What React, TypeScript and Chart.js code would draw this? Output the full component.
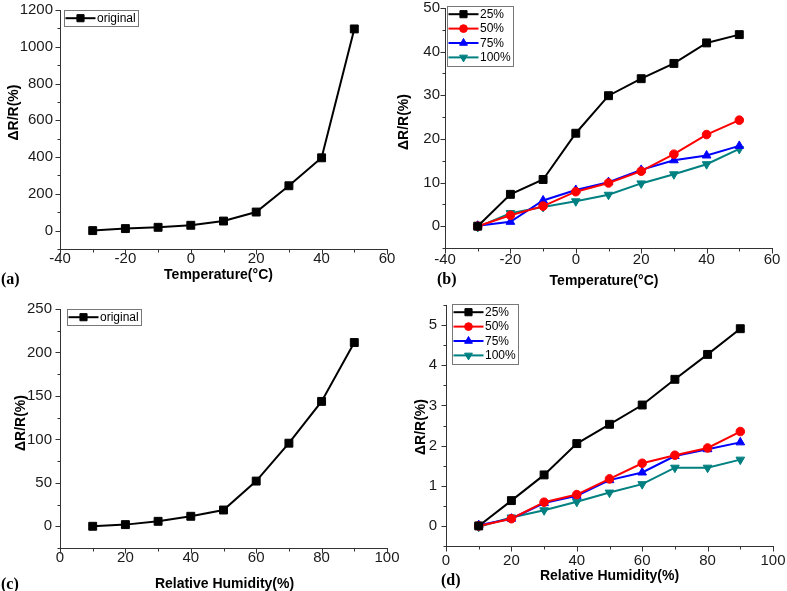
import React, { useEffect, useRef } from "react";
import { Chart, registerables } from "chart.js";
import { drawPoint } from "chart.js/helpers";

Chart.register(...registerables);

// ---------- data ----------
const tempX = [-30, -20, -10, 0, 10, 20, 30, 40, 50];
const humX = [10, 20, 30, 40, 50, 60, 70, 80, 90];

const tempOriginal = [0, 11, 18, 29, 52, 101, 244, 396, 1097];
const temp25 = [0, 7.3, 10.7, 21.3, 29.9, 33.8, 37.3, 42.0, 43.9];
const temp50 = [0, 2.5, 4.6, 7.9, 9.9, 12.6, 16.5, 21.0, 24.3];
const temp75 = [0.1, 1.0, 5.9, 8.3, 10.1, 12.9, 15.1, 16.2, 18.4];
const temp100 = [-0.2, 3.0, 4.4, 5.7, 7.2, 9.8, 11.9, 14.2, 17.7];

const humOriginal = [0, 1.9, 5.7, 11.5, 18.7, 52, 95.6, 143.7, 211.4];
const hum25 = [0, 0.63, 1.27, 2.05, 2.53, 3.01, 3.65, 4.27, 4.91];
const hum50 = [0, 0.18, 0.59, 0.78, 1.17, 1.56, 1.76, 1.94, 2.35];
const hum75 = [0.02, 0.18, 0.57, 0.75, 1.14, 1.33, 1.74, 1.91, 2.08];
const hum100 = [-0.02, 0.21, 0.39, 0.6, 0.83, 1.04, 1.45, 1.45, 1.65];

const originalLabel = "original";
const seriesLabels = ["25%", "50%", "75%", "100%"];
const panelLabels = ["(a)", "(b)", "(c)", "(d)"];
const tempAxisTitle = "Temperature(\u00B0C)";
const humAxisTitle = "Relative Humidity(%)";
const yAxisTitle = "\u0394R/R(%)";

// ---------- styles ----------
const SANS = '"Liberation Sans", Arial, sans-serif';
const seriesColors = ["#000000", "#ff0000", "#0000ff", "#008080"];
const seriesMarkers = [
  { style: "rect", r: 5.6, rot: 0 },
  { style: "circle", r: 4.3, rot: 0 },
  { style: "triangle", r: 5, rot: 0 },
  { style: "triangle", r: 5, rot: 180 },
];

function makeDataset(label: string, xs: number[], ys: number[], i: number) {
  const m = seriesMarkers[i];
  return {
    label,
    data: xs.map((x, k) => ({ x, y: ys[k] })),
    borderColor: seriesColors[i],
    backgroundColor: seriesColors[i],
    pointBackgroundColor: seriesColors[i],
    pointBorderColor: seriesColors[i],
    pointBorderWidth: 1,
    borderWidth: 2,
    pointStyle: m.style,
    pointRadius: m.r,
    pointRotation: m.rot,
    tension: 0,
    showLine: true,
  };
}

const axisTicksPlugin = {
  id: "axisTicks",
  afterDraw(chart: any) {
    const ctx = chart.ctx;
    const area = chart.chartArea;
    ctx.save();
    ctx.strokeStyle = "#333";
    ctx.lineWidth = 1;
    const doScale = (scale: any, horizontal: boolean) => {
      const step = scale.options.ticks.stepSize;
      const majors = scale.ticks.map((t: any) => t.value);
      const minors: number[] = [];
      majors.forEach((v: number) => {
        [v - step / 2, v + step / 2].forEach((m) => {
          if (m >= scale.min - 1e-9 && m <= scale.max + 1e-9 && !minors.some((q) => Math.abs(q - m) < 1e-9)) minors.push(m);
        });
      });
      const draw = (v: number, len: number) => {
        const p = Math.round(scale.getPixelForValue(v)) + 0.5;
        ctx.beginPath();
        if (horizontal) {
          const yb = Math.round(area.bottom) + 0.5;
          ctx.moveTo(p, yb);
          ctx.lineTo(p, yb + len);
        } else {
          const xl = Math.round(area.left) + 0.5;
          ctx.moveTo(xl, p);
          ctx.lineTo(xl - len, p);
        }
        ctx.stroke();
      };
      majors.forEach((v: number) => draw(v, 5));
      minors.forEach((v: number) => draw(v, 3));
    };
    doScale(chart.scales.x, true);
    doScale(chart.scales.y, false);
    ctx.restore();
  },
};

const axisTitlesPlugin = {
  id: "axisTitles",
  afterDraw(chart: any) {
    const o = chart.options.plugins.axisTitles;
    if (!o) return;
    const ctx = chart.ctx;
    const a = chart.chartArea;
    ctx.save();
    ctx.font = `bold 14px ${SANS}`;
    ctx.fillStyle = "#000";
    ctx.textAlign = "center";
    ctx.textBaseline = "middle";
    ctx.fillText(o.xText, (a.left + a.right) / 2 + o.xdx, o.xcy);
    ctx.translate(o.ycx, (a.top + a.bottom) / 2 + o.ydy);
    ctx.rotate(-Math.PI / 2);
    ctx.fillText(o.yText, 0, 0);
    ctx.restore();
  },
};

const boxLegendPlugin = {
  id: "boxLegend",
  afterDraw(chart: any) {
    const o = chart.options.plugins.boxLegend;
    if (!o) return;
    const ctx = chart.ctx;
    const area = chart.chartArea;
    const ds = chart.data.datasets;
    ctx.save();
    ctx.font = `12px ${SANS}`;
    const rowH = 14.4;
    const lineLen = 30;
    const left = Math.round(area.left + o.dx);
    const top = Math.round(area.top + o.dy);
    const maxW = Math.max(...ds.map((d: any) => ctx.measureText(d.label).width));
    const w = Math.round(1 + lineLen + 1 + maxW + 3);
    const h = Math.round(ds.length * rowH + 2);
    ctx.fillStyle = "#ffffff";
    ctx.fillRect(left, top, w, h);
    ctx.strokeStyle = "#777";
    ctx.lineWidth = 1;
    ctx.strokeRect(left + 0.5, top + 0.5, w, h);
    ds.forEach((d: any, i: number) => {
      const cy = top + 1 + rowH * (i + 0.5);
      const x0 = left + 1.5;
      ctx.strokeStyle = d.borderColor;
      ctx.lineWidth = 2;
      ctx.beginPath();
      ctx.moveTo(x0, cy);
      ctx.lineTo(x0 + lineLen, cy);
      ctx.stroke();
      ctx.fillStyle = d.pointBackgroundColor;
      ctx.strokeStyle = d.pointBorderColor;
      ctx.lineWidth = 1;
      drawPoint(ctx, { pointStyle: d.pointStyle, rotation: d.pointRotation, radius: d.pointRadius * 0.9, borderWidth: 1 }, x0 + lineLen / 2, cy);
      ctx.fillStyle = "#000";
      ctx.textBaseline = "middle";
      ctx.textAlign = "left";
      ctx.fillText(d.label, x0 + lineLen + 1.5, cy + 0.5);
    });
    ctx.restore();
  },
};

type Panel = {
  left: number; top: number; w: number; h: number;
  area: { l: number; r: number; t: number; b: number };
  x: { min: number; max: number; step: number; tickPad: number };
  y: { min: number; max: number; step: number; tickPad: number };
  titles: { xText: string; xdx: number; xcy: number; yText: string; ycx: number; ydy: number };
  datasets: any[];
  legend: { dx: number; dy: number };
};

const panels: Panel[] = [
  {
    left: 0, top: 0, w: 410, h: 295,
    area: { l: 60, r: 387, t: 10, b: 249 },
    x: { min: -40, max: 60, step: 20, tickPad: 1 },
    y: { min: -100, max: 1200, step: 200, tickPad: 2 },
    titles: { xText: tempAxisTitle, xdx: -5, xcy: 275.5, yText: yAxisTitle, ycx: 14, ydy: -17 },
    datasets: [makeDataset(originalLabel, tempX, tempOriginal, 0)],
    legend: { dx: 4, dy: 0 },
  },
  {
    left: 394, top: 0, w: 393, h: 295,
    area: { l: 51, r: 378, t: 8, b: 248 },
    x: { min: -40, max: 60, step: 20, tickPad: 3 },
    y: { min: -5, max: 50, step: 10, tickPad: 0 },
    titles: { xText: tempAxisTitle, xdx: -4.5, xcy: 281.5, yText: yAxisTitle, ycx: 10, ydy: -6 },
    datasets: [
      makeDataset(seriesLabels[0], tempX, temp25, 0),
      makeDataset(seriesLabels[1], tempX, temp50, 1),
      makeDataset(seriesLabels[2], tempX, temp75, 2),
      makeDataset(seriesLabels[3], tempX, temp100, 3),
    ],
    legend: { dx: 2, dy: -2 },
  },
  {
    left: 0, top: 295, w: 410, h: 296,
    area: { l: 60, r: 387, t: 14, b: 253 },
    x: { min: 0, max: 100, step: 20, tickPad: 1 },
    y: { min: -25, max: 250, step: 50, tickPad: 3 },
    titles: { xText: humAxisTitle, xdx: 1, xcy: 289, yText: yAxisTitle, ycx: 21, ydy: -5.5 },
    datasets: [makeDataset(originalLabel, humX, humOriginal, 0)],
    legend: { dx: 7, dy: 0 },
  },
  {
    left: 394, top: 295, w: 393, h: 296,
    area: { l: 52, r: 379, t: 10, b: 251 },
    x: { min: 0, max: 100, step: 20, tickPad: 6 },
    y: { min: -0.5, max: 5.5, step: 1, tickPad: 4 },
    titles: { xText: humAxisTitle, xdx: 0, xcy: 281, yText: yAxisTitle, ycx: 27, ydy: 1.5 },
    datasets: [
      makeDataset(seriesLabels[0], humX, hum25, 0),
      makeDataset(seriesLabels[1], humX, hum50, 1),
      makeDataset(seriesLabels[2], humX, hum75, 2),
      makeDataset(seriesLabels[3], humX, hum100, 3),
    ],
    legend: { dx: 6, dy: -1 },
  },
];

const labelPos = [
  { left: 1, top: 270 },
  { left: 437, top: 270 },
  { left: 1, top: 575 },
  { left: 441, top: 571 },
];

// major ticks: multiples of the step that lie inside the axis range
function stepTicks(s: any, step: number) {
  const out: { value: number }[] = [];
  const first = Math.ceil(s.min / step - 1e-9);
  for (let k = first; k * step <= s.max + 1e-9; k++) out.push({ value: +(k * step).toFixed(6) });
  s.ticks = out;
}

function PanelChart({ p }: { p: Panel }) {
  const ref = useRef<HTMLCanvasElement | null>(null);
  useEffect(() => {
    if (!ref.current) return;
    const tickFont = { family: SANS, size: 15 };
    const fmt = (v: any) => String(v);
    const chart = new Chart(ref.current, {
      type: "line",
      data: { datasets: p.datasets },
      plugins: [axisTicksPlugin, axisTitlesPlugin, boxLegendPlugin],
      options: {
        animation: false,
        responsive: false,
        devicePixelRatio: 1,
        parsing: false as any,
        layout: { padding: { left: 0, top: p.area.t, right: p.w - p.area.r, bottom: 0 } },
        plugins: {
          legend: { display: false },
          tooltip: { enabled: false },
          boxLegend: p.legend,
          axisTitles: p.titles,
        } as any,
        scales: {
          x: {
            type: "linear",
            position: "bottom",
            min: p.x.min,
            max: p.x.max,
            afterBuildTicks: (s: any) => stepTicks(s, p.x.step),
            ticks: { stepSize: p.x.step, autoSkip: false, includeBounds: false, maxRotation: 0, font: tickFont, color: "#1a1a1a", padding: p.x.tickPad, callback: fmt },
            grid: { display: true, drawOnChartArea: false, drawTicks: true, tickLength: 0, color: "rgba(0,0,0,0)" },
            border: { display: true, color: "#333", width: 1 },
            title: { display: false },
            afterFit: (s: any) => { s.height = p.h - p.area.b; s.paddingLeft = 0; s.paddingRight = 0; },
          },
          y: {
            type: "linear",
            position: "left",
            min: p.y.min,
            max: p.y.max,
            afterBuildTicks: (s: any) => stepTicks(s, p.y.step),
            ticks: { stepSize: p.y.step, autoSkip: false, includeBounds: false, font: tickFont, color: "#1a1a1a", padding: p.y.tickPad, callback: fmt },
            grid: { display: true, drawOnChartArea: false, drawTicks: true, tickLength: 5, color: "rgba(0,0,0,0)" },
            border: { display: true, color: "#333", width: 1 },
            title: { display: false },
            afterFit: (s: any) => { s.width = p.area.l; s.paddingTop = 0; s.paddingBottom = 0; },
          },
        },
      } as any,
    });
    return () => chart.destroy();
  }, [p]);
  return (
    <canvas
      ref={ref}
      width={p.w}
      height={p.h}
      style={{ position: "absolute", left: p.left, top: p.top, width: p.w, height: p.h }}
    />
  );
}

export default function App() {
  return (
    <div style={{ position: "absolute", left: 0, top: 0, width: 787, height: 591, overflow: "hidden", background: "#fff" }}>
      {panels.map((p, i) => (
        <PanelChart key={i} p={p} />
      ))}
      {panelLabels.map((t, i) => (
        <div
          key={t}
          style={{
            position: "absolute",
            left: labelPos[i].left,
            top: labelPos[i].top,
            fontFamily: '"Liberation Serif", "Times New Roman", serif',
            fontWeight: "bold",
            fontSize: 16,
            lineHeight: "18px",
            color: "#000",
          }}
        >
          {t}
        </div>
      ))}
    </div>
  );
}
